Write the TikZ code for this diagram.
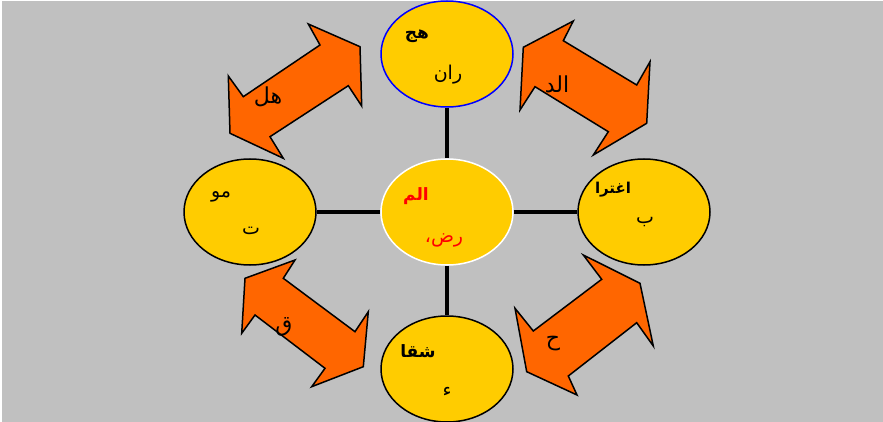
\documentclass[tikz,border=0pt]{standalone}
\usepackage{fontspec}
\usetikzlibrary{shapes.geometric}
\newfontfamily\arabicfont[Script=Arabic]{DejaVu Sans}
\TeXXeTstate=1
\definecolor{panel}{HTML}{C0C0C0}
\definecolor{discfill}{HTML}{FFCC00}
\definecolor{arrowfill}{HTML}{FF6600}
\newcommand{\ar}[1]{\arabicfont\beginR #1\endR}
\begin{document}
\begin{tikzpicture}[x=1pt,y=-1pt,
  disc/.style={ellipse,draw=black,line width=1.5pt,fill=discfill,
    minimum width=132pt,minimum height=106pt,inner sep=0pt},
  spoke/.style={line width=4.5pt,black},
  blockarrow/.style={draw=black,line width=1.5pt,fill=arrowfill,line join=miter},
  word/.style={inner sep=0pt,font=\fontsize{19}{21}\selectfont},
  boldword/.style={word,font=\fontsize{17}{19}\selectfont\bfseries},
  arrowword/.style={inner sep=0pt,font=\fontsize{22}{24}\selectfont}]
\useasboundingbox (0,0) rectangle (883,422);
\fill[white] (0,0) rectangle (883,422);
\fill[panel] (2,1) rectangle (883,422);

% block arrows between the discs
\filldraw[blockarrow] (360,46.7) -- (361.7,106) -- (348.3,85.7) -- (270,136.7)
  -- (283.3,158.3) -- (230,133.3) -- (228.3,76) -- (243.3,96.7) -- (320,45)
  -- (308.3,24) -- cycle;
\filldraw[blockarrow] (573.3,21) -- (563.3,40.7) -- (636.7,85) -- (650,61.7)
  -- (646.7,123.3) -- (593.3,155) -- (608.3,131.7) -- (535,86.7) -- (520,110)
  -- (523.3,47.3) -- cycle;
\filldraw[blockarrow] (295,260) -- (283.3,278.3) -- (355,331.7) -- (368.3,311.7)
  -- (363.3,366.7) -- (311.7,386.7) -- (325,368.3) -- (255,315) -- (241.7,333.3)
  -- (245,278.3) -- cycle;
\filldraw[blockarrow] (583.3,255) -- (640,283.3) -- (653.3,346) -- (636.7,322.7)
  -- (568.3,376) -- (577,395) -- (526.7,371.7) -- (515,308.3) -- (533.3,331)
  -- (601.7,279.3) -- cycle;

\node[arrowword] (lblTL) at (268,97) {\ar{هل}};
\node[arrowword] (lblTR) at (557,84) {\ar{الد}};
\node[arrowword] (lblBL) at (284,327) {\ar{ق}};
\node[arrowword] (lblBR) at (553,344) {\ar{ح}};

% discs
\node[disc,draw=blue] (top) at (447,54) {};
\node[disc,draw=white] (mid) at (447,212) {};
\node[disc] (left) at (250,212) {};
\node[disc] (right) at (644,212) {};
\node[disc] (bottom) at (447,369) {};

% spokes
\draw[spoke] (top) -- (mid);
\draw[spoke] (mid) -- (bottom);
\draw[spoke] (left) -- (mid);
\draw[spoke] (mid) -- (right);

% disc texts
\node[boldword] (topA) at (417,36) {\ar{هج}};
\node[word] (topB) at (448,75) {\ar{ران}};
\node[boldword,text=red] (midA) at (416,196) {\ar{الم}};
\node[word,text=red] (midB) at (444,240) {\ar{رض،}};
\node[word] (leftA) at (221,197) {\ar{مو}};
\node[word] (leftB) at (251,231) {\ar{ت}};
\node[boldword,font=\fontsize{15}{17}\selectfont\bfseries] (rightA) at (613,190) {\ar{اغترا}};
\node[word] (rightB) at (645,222) {\ar{ب}};
\node[boldword] (bottomA) at (418,351) {\ar{شقا}};
\node[word] (bottomB) at (447,392) {\ar{ء}};
\end{tikzpicture}
\end{document}
